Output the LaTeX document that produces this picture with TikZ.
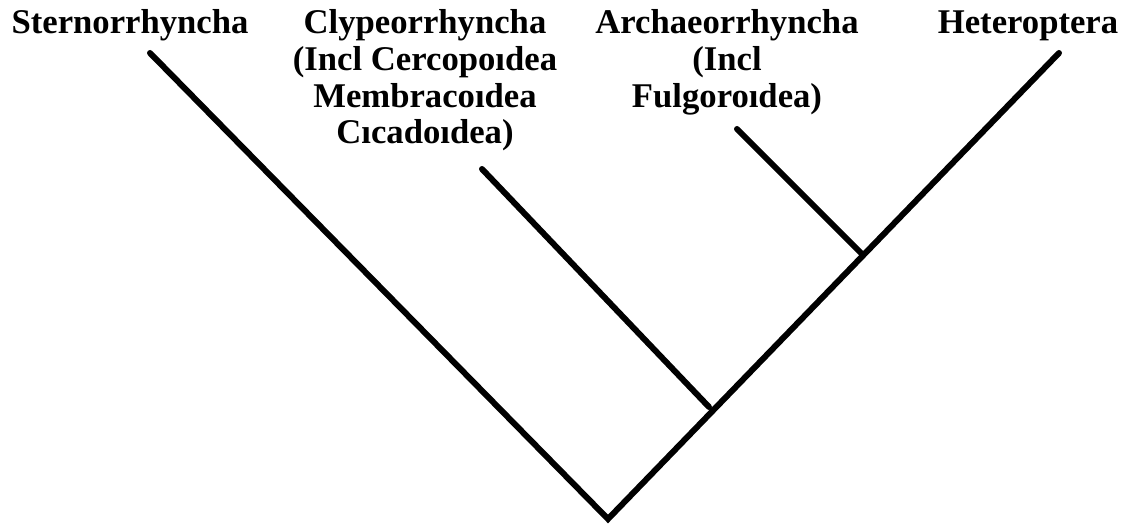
\documentclass[tikz,border=0pt]{standalone}
\usepackage{fontspec}
\setmainfont{Liberation Serif}
\begin{document}
\begin{tikzpicture}[x=0.75pt,y=-0.75pt,
  branch/.style={line width=4.5pt,line cap=round,line join=miter},
  taxon/.style={font=\bfseries\fontsize{26}{27.5}\selectfont,align=center,anchor=north,inner sep=0pt}]
\useasboundingbox (0,0) rectangle (1122,528);
\node[taxon] (stern) at (130,8) {\strut Sternorrhyncha};
\node[taxon] (clyp) at (425,8) {\strut Clypeorrhyncha\\(Incl Cercopoıdea\\Membracoıdea\\Cıcadoıdea)};
\node[taxon] (arch) at (727,8) {\strut Archaeorrhyncha\\(Incl\\Fulgoroıdea)};
\node[taxon] (het) at (1028,8) {\strut Heteroptera};
\coordinate (root) at (608,519);
\coordinate (tStern) at (150,53);
\coordinate (tHet) at (1059,53);
\coordinate (tClyp) at (482,169);
\coordinate (nClyp) at (709,407);
\coordinate (tArch) at (737,129);
\coordinate (nArch) at (862,254);
\draw[branch] (tStern) -- (root) -- (tHet);
\draw[branch] (tClyp) -- (nClyp);
\draw[branch] (tArch) -- (nArch);
\end{tikzpicture}
\end{document}
